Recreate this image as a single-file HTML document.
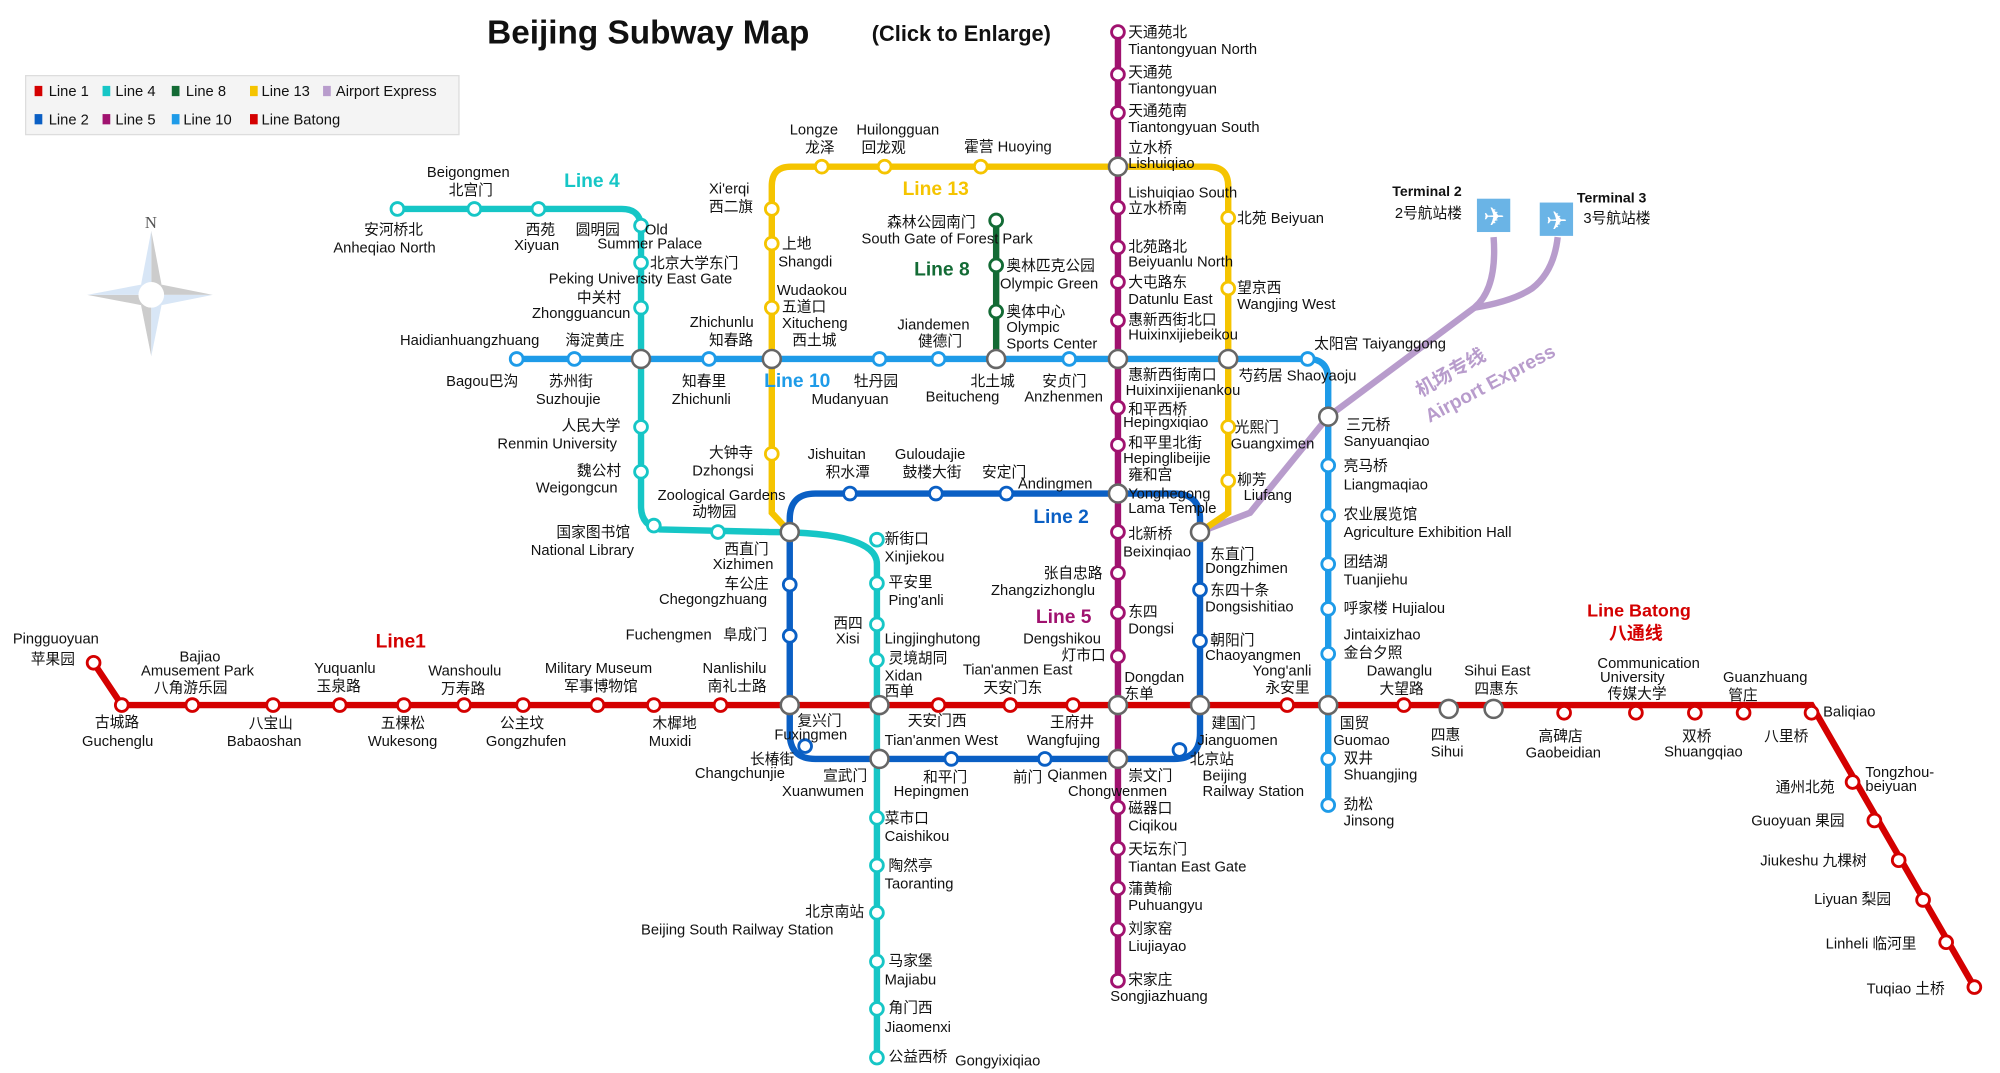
<!DOCTYPE html>
<html><head><meta charset="utf-8"><style>
html,body{margin:0;padding:0;background:#fff;}
svg{display:block;}
text{font-family:"Liberation Sans","Noto Sans CJK SC",sans-serif;font-size:11.5px;fill:#111;}
.b{font-weight:bold;}
.st{fill:#fff;stroke-width:2.2;}
</style></head><body>
<svg width="2000" height="1073" viewBox="0 0 1560 837" preserveAspectRatio="none" xmlns="http://www.w3.org/2000/svg">
<rect width="1560" height="837" fill="#fff"/>
<text x="380" y="34" class="b" style="font-size:26px">Beijing Subway Map</text>
<text x="680" y="32" class="b" style="font-size:17px">(Click to Enlarge)</text>
<!-- legend -->
<rect x="20" y="59" width="338" height="46" fill="#f4f4f4" stroke="#ddd"/>
<g style="font-size:11.5px">
<rect x="27" y="67" width="6" height="8" fill="#d40000"/><text x="38" y="75">Line 1</text>
<rect x="80" y="67" width="6" height="8" fill="#16c6c6"/><text x="90" y="75">Line 4</text>
<rect x="134" y="67" width="6" height="8" fill="#136b35"/><text x="145" y="75">Line 8</text>
<rect x="195" y="67" width="6" height="8" fill="#f5c400"/><text x="204" y="75">Line 13</text>
<rect x="252" y="67" width="6" height="8" fill="#b89ccc"/><text x="262" y="75">Airport Express</text>
<rect x="27" y="89" width="6" height="8" fill="#0a5fc4"/><text x="38" y="97">Line 2</text>
<rect x="80" y="89" width="6" height="8" fill="#a0126f"/><text x="90" y="97">Line 5</text>
<rect x="134" y="89" width="6" height="8" fill="#1e9be8"/><text x="143" y="97">Line 10</text>
<rect x="195" y="89" width="6" height="8" fill="#d40000"/><text x="204" y="97">Line Batong</text>
</g>
<!-- compass -->
<g transform="translate(118,230)">
<polygon points="0,-50 8,-8 0,0" fill="#ccc"/><polygon points="0,-50 -8,-8 0,0" fill="#d8e6f6"/>
<polygon points="0,48 -8,8 0,0" fill="#ccc"/><polygon points="0,48 8,8 0,0" fill="#d8e6f6"/>
<polygon points="-50,0 -8,8 0,0" fill="#ccc"/><polygon points="-50,0 -8,-8 0,0" fill="#d8e6f6"/>
<polygon points="48,0 8,-8 0,0" fill="#ccc"/><polygon points="48,0 8,8 0,0" fill="#d8e6f6"/>
<circle r="10" fill="#fff"/><text x="-5" y="-52" style="font-family:'Liberation Serif',serif;font-size:13px;fill:#555">N</text>
</g>
<!-- Airport express -->
<g fill="none" stroke="#b89ccc" stroke-width="5">
<path d="M936,415 L975,400 L1036,325 L1150,240 Q1168,225 1165,185"/>
<path d="M1150,240 Q1180,235 1195,225 Q1212,212 1215,185"/>
</g>
<text x="1108" y="310" transform="rotate(-30 1108 310)" class="b" style="fill:#b89ccc;font-size:15px">机场专线</text>
<text x="1115" y="330" transform="rotate(-28 1115 330)" class="b" style="fill:#b89ccc;font-size:15px">Airport Express</text>
<rect x="1152" y="155" width="26" height="26" fill="#6ab4e6"/><text x="1157" y="176" style="fill:#fff;font-size:20px">✈</text>
<rect x="1201" y="158" width="26" height="26" fill="#6ab4e6"/><text x="1206" y="179" style="fill:#fff;font-size:20px">✈</text>
<text x="1086" y="153" class="b" style="font-size:11px">Terminal 2</text><text x="1088" y="170">2号航站楼</text>
<text x="1230" y="158" class="b" style="font-size:11px">Terminal 3</text><text x="1235" y="174">3号航站楼</text>
<!-- Line 13 -->
<path d="M616,415 L602,400 L602,145 Q602,130 617,130 L943,130 Q958,130 958,145 L958,400 L936,415" fill="none" stroke="#f5c400" stroke-width="5"/>
<!-- Line 10 -->
<path d="M403,280 L1020,280 Q1036,280 1036,296 L1036,628" fill="none" stroke="#1e9be8" stroke-width="5"/>
<!-- Line 2 -->
<path d="M636,385 L916,385 Q936,385 936,405 L936,572 Q936,592 916,592 L636,592 Q616,592 616,572 L616,405 Q616,385 636,385" fill="none" stroke="#0a5fc4" stroke-width="5"/>
<!-- Line 4 -->
<path d="M310,163 L485,163 Q500,163 500,178 L500,395 Q500,410 515,413 L600,415 Q684,415 684,440 L684,825" fill="none" stroke="#16c6c6" stroke-width="5"/>
<!-- Line 8 -->
<path d="M777,172 L777,280" fill="none" stroke="#136b35" stroke-width="5"/>
<!-- Line 5 -->
<path d="M872,25 L872,765" fill="none" stroke="#a0126f" stroke-width="5"/>
<!-- Line 1 / Batong -->
<path d="M73,517 L95,550 L1413,550 L1540,770" fill="none" stroke="#d40000" stroke-width="5"/>
<!-- stations -->
<g class="st" stroke="#d40000">
<circle cx="73" cy="517" r="5"/><circle cx="95" cy="550" r="5"/><circle cx="150" cy="550" r="5"/><circle cx="213" cy="550" r="5"/><circle cx="265" cy="550" r="5"/><circle cx="315" cy="550" r="5"/><circle cx="362" cy="550" r="5"/><circle cx="408" cy="550" r="5"/><circle cx="466" cy="550" r="5"/><circle cx="510" cy="550" r="5"/><circle cx="562" cy="550" r="5"/><circle cx="732" cy="550" r="5"/><circle cx="788" cy="550" r="5"/><circle cx="837" cy="550" r="5"/><circle cx="1004" cy="550" r="5"/><circle cx="1095" cy="550" r="5"/><circle cx="1220" cy="556" r="5"/><circle cx="1276" cy="556" r="5"/><circle cx="1322" cy="556" r="5"/><circle cx="1360" cy="556" r="5"/><circle cx="1413" cy="556" r="5"/><circle cx="1445" cy="610" r="5"/><circle cx="1462" cy="640" r="5"/><circle cx="1481" cy="671" r="5"/><circle cx="1500" cy="702" r="5"/><circle cx="1518" cy="735" r="5"/><circle cx="1540" cy="770" r="5"/>
</g>
<g class="st" stroke="#0a5fc4">
<circle cx="616" cy="456" r="5"/><circle cx="616" cy="496" r="5"/><circle cx="628" cy="582" r="5"/><circle cx="742" cy="592" r="5"/><circle cx="815" cy="592" r="5"/><circle cx="920" cy="585" r="5"/><circle cx="936" cy="500" r="5"/><circle cx="936" cy="460" r="5"/><circle cx="785" cy="385" r="5"/><circle cx="730" cy="385" r="5"/><circle cx="663" cy="385" r="5"/>
</g>
<g class="st" stroke="#16c6c6">
<circle cx="310" cy="163" r="5"/><circle cx="370" cy="163" r="5"/><circle cx="420" cy="163" r="5"/><circle cx="500" cy="176" r="5"/><circle cx="500" cy="205" r="5"/><circle cx="500" cy="240" r="5"/><circle cx="500" cy="333" r="5"/><circle cx="500" cy="368" r="5"/><circle cx="510" cy="410" r="5"/><circle cx="560" cy="415" r="5"/><circle cx="684" cy="421" r="5"/><circle cx="684" cy="455" r="5"/><circle cx="684" cy="487" r="5"/><circle cx="684" cy="515" r="5"/><circle cx="684" cy="638" r="5"/><circle cx="684" cy="675" r="5"/><circle cx="684" cy="712" r="5"/><circle cx="684" cy="750" r="5"/><circle cx="684" cy="787" r="5"/><circle cx="684" cy="825" r="5"/>
</g>
<g class="st" stroke="#1e9be8">
<circle cx="403" cy="280" r="5"/><circle cx="448" cy="280" r="5"/><circle cx="553" cy="280" r="5"/><circle cx="686" cy="280" r="5"/><circle cx="732" cy="280" r="5"/><circle cx="834" cy="280" r="5"/><circle cx="1020" cy="280" r="5"/><circle cx="1036" cy="363" r="5"/><circle cx="1036" cy="402" r="5"/><circle cx="1036" cy="440" r="5"/><circle cx="1036" cy="475" r="5"/><circle cx="1036" cy="510" r="5"/><circle cx="1036" cy="592" r="5"/><circle cx="1036" cy="628" r="5"/>
</g>
<g class="st" stroke="#f5c400">
<circle cx="602" cy="354" r="5"/><circle cx="602" cy="240" r="5"/><circle cx="602" cy="190" r="5"/><circle cx="602" cy="163" r="5"/><circle cx="641" cy="130" r="5"/><circle cx="690" cy="130" r="5"/><circle cx="765" cy="130" r="5"/><circle cx="958" cy="170" r="5"/><circle cx="958" cy="225" r="5"/><circle cx="958" cy="333" r="5"/><circle cx="958" cy="375" r="5"/>
</g>
<g class="st" stroke="#136b35"><circle cx="777" cy="172" r="5"/><circle cx="777" cy="207" r="5"/><circle cx="777" cy="243" r="5"/></g>
<g class="st" stroke="#a0126f">
<circle cx="872" cy="25" r="5"/><circle cx="872" cy="58" r="5"/><circle cx="872" cy="88" r="5"/><circle cx="872" cy="162" r="5"/><circle cx="872" cy="193" r="5"/><circle cx="872" cy="220" r="5"/><circle cx="872" cy="250" r="5"/><circle cx="872" cy="318" r="5"/><circle cx="872" cy="347" r="5"/><circle cx="872" cy="415" r="5"/><circle cx="872" cy="447" r="5"/><circle cx="872" cy="478" r="5"/><circle cx="872" cy="512" r="5"/><circle cx="872" cy="630" r="5"/><circle cx="872" cy="662" r="5"/><circle cx="872" cy="693" r="5"/><circle cx="872" cy="725" r="5"/><circle cx="872" cy="765" r="5"/>
</g>
<!-- interchanges -->
<g fill="#fff" stroke="#666" stroke-width="2">
<circle cx="500" cy="280" r="7"/><circle cx="602" cy="280" r="7"/><circle cx="777" cy="280" r="7"/><circle cx="872" cy="280" r="7"/><circle cx="958" cy="280" r="7"/><circle cx="872" cy="130" r="7"/><circle cx="1036" cy="325" r="7"/><circle cx="616" cy="415" r="7"/><circle cx="872" cy="385" r="7"/><circle cx="936" cy="415" r="7"/><circle cx="616" cy="550" r="7"/><circle cx="686" cy="550" r="7"/><circle cx="872" cy="550" r="7"/><circle cx="936" cy="550" r="7"/><circle cx="1036" cy="550" r="7"/><circle cx="1130" cy="553" r="7"/><circle cx="1165" cy="553" r="7"/><circle cx="686" cy="592" r="7"/><circle cx="872" cy="592" r="7"/>
</g>
<!-- line labels -->
<text x="440" y="146" class="b" style="fill:#16c6c6;font-size:15px">Line 4</text>
<text x="704" y="152" class="b" style="fill:#f5c400;font-size:15px">Line 13</text>
<text x="713" y="215" class="b" style="fill:#136b35;font-size:15px">Line 8</text>
<text x="596" y="302" class="b" style="fill:#1e9be8;font-size:15px">Line 10</text>
<text x="806" y="408" class="b" style="fill:#0a5fc4;font-size:15px">Line 2</text>
<text x="808" y="486" class="b" style="fill:#a0126f;font-size:15px">Line 5</text>
<text x="293" y="505" class="b" style="fill:#d40000;font-size:15px">Line1</text>
<text x="1238" y="481" class="b" style="fill:#d40000;font-size:14px">Line Batong</text>
<text x="1255" y="499" class="b" style="fill:#d40000;font-size:14px">八通线</text>
<!-- station labels -->
<text x="10" y="502">Pingguoyuan</text><text x="24" y="518">苹果园</text>
<text x="74" y="567">古城路</text><text x="64" y="582">Guchenglu</text>
<text x="140" y="516">Bajiao</text><text x="110" y="527">Amusement Park</text><text x="120" y="540">八角游乐园</text>
<text x="194" y="568">八宝山</text><text x="177" y="582">Babaoshan</text>
<text x="245" y="525">Yuquanlu</text><text x="247" y="539">玉泉路</text>
<text x="297" y="568">五棵松</text><text x="287" y="582">Wukesong</text>
<text x="334" y="527">Wanshoulu</text><text x="344" y="541">万寿路</text>
<text x="390" y="568">公主坟</text><text x="379" y="582">Gongzhufen</text>
<text x="425" y="525">Military Museum</text><text x="440" y="539">军事博物馆</text>
<text x="509" y="568">木樨地</text><text x="506" y="582">Muxidi</text>
<text x="548" y="525">Nanlishilu</text><text x="552" y="539">南礼士路</text>
<text x="622" y="566">复兴门</text><text x="604" y="577">Fuxingmen</text>
<text x="585" y="596">长椿街</text><text x="542" y="607">Changchunjie</text>
<text x="642" y="609">宣武门</text><text x="610" y="621">Xuanwumen</text>
<text x="708" y="566">天安门西</text><text x="690" y="581">Tian'anmen West</text>
<text x="751" y="526">Tian'anmen East</text><text x="767" y="540">天安门东</text>
<text x="819" y="567">王府井</text><text x="801" y="581">Wangfujing</text>
<text x="877" y="532">Dongdan</text><text x="877" y="545">东单</text>
<text x="945" y="568">建国门</text><text x="934" y="581">Jianguomen</text>
<text x="977" y="527">Yong'anli</text><text x="987" y="540">永安里</text>
<text x="1045" y="568">国贸</text><text x="1040" y="581">Guomao</text>
<text x="1066" y="527">Dawanglu</text><text x="1076" y="541">大望路</text>
<text x="1116" y="577">四惠</text><text x="1116" y="590">Sihui</text>
<text x="1142" y="527">Sihui East</text><text x="1150" y="541">四惠东</text>
<text x="1200" y="578">高碑店</text><text x="1190" y="591">Gaobeidian</text>
<text x="1246" y="521">Communication</text><text x="1248" y="532">University</text><text x="1254" y="545">传媒大学</text>
<text x="1312" y="578">双桥</text><text x="1298" y="590">Shuangqiao</text>
<text x="1344" y="532">Guanzhuang</text><text x="1348" y="546">管庄</text>
<text x="1422" y="559">Baliqiao</text><text x="1376" y="578">八里桥</text>
<text x="1455" y="606">Tongzhou-</text><text x="1455" y="617">beiyuan</text><text x="1385" y="618">通州北苑</text>
<text x="1366" y="644">Guoyuan 果园</text>
<text x="1373" y="675">Jiukeshu 九棵树</text>
<text x="1415" y="705">Liyuan 梨园</text>
<text x="1424" y="740">Linheli 临河里</text>
<text x="1456" y="775">Tuqiao 土桥</text>
<!-- line 4 labels -->
<text x="333" y="138">Beigongmen</text><text x="350" y="152">北宫门</text>
<text x="284" y="183">安河桥北</text><text x="260" y="197">Anheqiao North</text>
<text x="410" y="183">西苑</text><text x="401" y="195">Xiyuan</text>
<text x="449" y="183">圆明园</text><text x="503" y="183">Old</text><text x="466" y="194">Summer Palace</text>
<text x="507" y="209">北京大学东门</text><text x="428" y="221">Peking University East Gate</text>
<text x="450" y="236">中关村</text><text x="415" y="248">Zhongguancun</text>
<text x="312" y="269">Haidianhuangzhuang</text><text x="441" y="269">海淀黄庄</text>
<text x="348" y="301">Bagou巴沟</text><text x="428" y="301">苏州街</text><text x="418" y="315">Suzhoujie</text>
<text x="438" y="336">人民大学</text><text x="388" y="350">Renmin University</text>
<text x="450" y="371">魏公村</text><text x="418" y="384">Weigongcun</text>
<text x="434" y="419">国家图书馆</text><text x="414" y="433">National Library</text>
<text x="513" y="390">Zoological Gardens</text><text x="540" y="403">动物园</text>
<text x="565" y="432">西直门</text><text x="556" y="444">Xizhimen</text>
<text x="565" y="459">车公庄</text><text x="514" y="471">Chegongzhuang</text>
<text x="488" y="499">Fuchengmen</text><text x="564" y="499">阜成门</text>
<text x="690" y="424">新街口</text><text x="690" y="438">Xinjiekou</text>
<text x="693" y="458">平安里</text><text x="693" y="472">Ping'anli</text>
<text x="650" y="490">西四</text><text x="652" y="502">Xisi</text>
<text x="690" y="502">Lingjinghutong</text><text x="693" y="517">灵境胡同</text><text x="690" y="531">Xidan</text><text x="690" y="543">西单</text>
<text x="720" y="610">和平门</text><text x="697" y="621">Hepingmen</text>
<text x="790" y="610">前门</text><text x="817" y="608">Qianmen</text>
<text x="690" y="642">菜市口</text><text x="690" y="656">Caishikou</text>
<text x="693" y="679">陶然亭</text><text x="690" y="693">Taoranting</text>
<text x="628" y="715">北京南站</text><text x="500" y="729">Beijing South Railway Station</text>
<text x="693" y="753">马家堡</text><text x="690" y="768">Majiabu</text>
<text x="693" y="790">角门西</text><text x="690" y="805">Jiaomenxi</text>
<text x="693" y="828">公益西桥</text><text x="745" y="831">Gongyixiqiao</text>
<!-- line 10 labels -->
<text x="538" y="255">Zhichunlu</text><text x="553" y="269">知春路</text>
<text x="532" y="301">知春里</text><text x="524" y="315">Zhichunli</text>
<text x="666" y="301">牡丹园</text><text x="633" y="315">Mudanyuan</text>
<text x="700" y="257">Jiandemen</text><text x="716" y="270">健德门</text>
<text x="757" y="301">北土城</text><text x="722" y="313">Beitucheng</text>
<text x="813" y="301">安贞门</text><text x="799" y="313">Anzhenmen</text>
<text x="1025" y="272">太阳宫 Taiyanggong</text>
<text x="966" y="297">芍药居 Shaoyaoju</text>
<text x="1050" y="335">三元桥</text><text x="1048" y="348">Sanyuanqiao</text>
<text x="1048" y="367">亮马桥</text><text x="1048" y="382">Liangmaqiao</text>
<text x="1048" y="405">农业展览馆</text><text x="1048" y="419">Agriculture Exhibition Hall</text>
<text x="1048" y="442">团结湖</text><text x="1048" y="456">Tuanjiehu</text>
<text x="1048" y="478">呼家楼 Hujialou</text>
<text x="1048" y="499">Jintaixizhao</text><text x="1048" y="513">金台夕照</text>
<text x="1048" y="595">双井</text><text x="1048" y="608">Shuangjing</text>
<text x="1048" y="631">劲松</text><text x="1048" y="644">Jinsong</text>
<!-- line 13 labels -->
<text x="616" y="105">Longze</text><text x="628" y="119">龙泽</text>
<text x="668" y="105">Huilongguan</text><text x="672" y="119">回龙观</text>
<text x="752" y="118">霍营 Huoying</text>
<text x="553" y="151">Xi'erqi</text><text x="553" y="165">西二旗</text>
<text x="610" y="194">上地</text><text x="607" y="208">Shangdi</text>
<text x="606" y="230">Wudaokou</text><text x="610" y="243">五道口</text><text x="610" y="256">Xitucheng</text><text x="618" y="269">西土城</text>
<text x="553" y="357">大钟寺</text><text x="540" y="371">Dzhongsi</text>
<text x="965" y="174">北苑 Beiyuan</text>
<text x="965" y="228">望京西</text><text x="965" y="241">Wangjing West</text>
<text x="963" y="337">光熙门</text><text x="960" y="350">Guangximen</text>
<text x="965" y="378">柳芳</text><text x="970" y="390">Liufang</text>
<!-- line 8 labels -->
<text x="692" y="177">森林公园南门</text><text x="672" y="190">South Gate of Forest Park</text>
<text x="785" y="211">奥林匹克公园</text><text x="780" y="225">Olympic Green</text>
<text x="785" y="247">奥体中心</text><text x="785" y="259">Olympic</text><text x="785" y="272">Sports Center</text>
<!-- line 5 labels -->
<text x="880" y="29">天通苑北</text><text x="880" y="42">Tiantongyuan North</text>
<text x="880" y="60">天通苑</text><text x="880" y="73">Tiantongyuan</text>
<text x="880" y="90">天通苑南</text><text x="880" y="103">Tiantongyuan South</text>
<text x="880" y="119">立水桥</text><text x="880" y="131">Lishuiqiao</text>
<text x="880" y="154">Lishuiqiao South</text><text x="880" y="166">立水桥南</text>
<text x="880" y="196">北苑路北</text><text x="880" y="208">Beiyuanlu North</text>
<text x="880" y="224">大屯路东</text><text x="880" y="237">Datunlu East</text>
<text x="880" y="253">惠新西街北口</text><text x="880" y="265">Huixinxijiebeikou</text>
<text x="880" y="296">惠新西街南口</text><text x="878" y="308">Huixinxijienankou</text>
<text x="880" y="323">和平西桥</text><text x="876" y="333">Hepingxiqiao</text>
<text x="880" y="349">和平里北街</text><text x="876" y="361">Hepinglibeijie</text>
<text x="880" y="374">雍和宫</text><text x="880" y="389">Yonghegong</text><text x="880" y="400">Lama Temple</text>
<text x="794" y="381">Andingmen</text><text x="766" y="372">安定门</text>
<text x="630" y="358">Jishuitan</text><text x="644" y="372">积水潭</text>
<text x="698" y="358">Guloudajie</text><text x="704" y="372">鼓楼大街</text>
<text x="880" y="420">北新桥</text><text x="876" y="434">Beixinqiao</text>
<text x="814" y="451">张自忠路</text><text x="773" y="464">Zhangzizhonglu</text>
<text x="880" y="481">东四</text><text x="880" y="494">Dongsi</text>
<text x="798" y="502">Dengshikou</text><text x="828" y="515">灯市口</text>
<text x="880" y="609">崇文门</text><text x="833" y="621">Chongwenmen</text>
<text x="880" y="634">磁器口</text><text x="880" y="648">Ciqikou</text>
<text x="880" y="666">天坛东门</text><text x="880" y="680">Tiantan East Gate</text>
<text x="880" y="697">蒲黄榆</text><text x="880" y="710">Puhuangyu</text>
<text x="880" y="728">刘家窑</text><text x="880" y="742">Liujiayao</text>
<text x="880" y="768">宋家庄</text><text x="866" y="781">Songjiazhuang</text>
<!-- line 2 right labels -->
<text x="944" y="436">东直门</text><text x="940" y="447">Dongzhimen</text>
<text x="944" y="464">东四十条</text><text x="940" y="477">Dongsishitiao</text>
<text x="944" y="503">朝阳门</text><text x="940" y="515">Chaoyangmen</text>
<text x="928" y="596">北京站</text><text x="938" y="609">Beijing</text><text x="938" y="621">Railway Station</text>
</svg>
</body></html>
